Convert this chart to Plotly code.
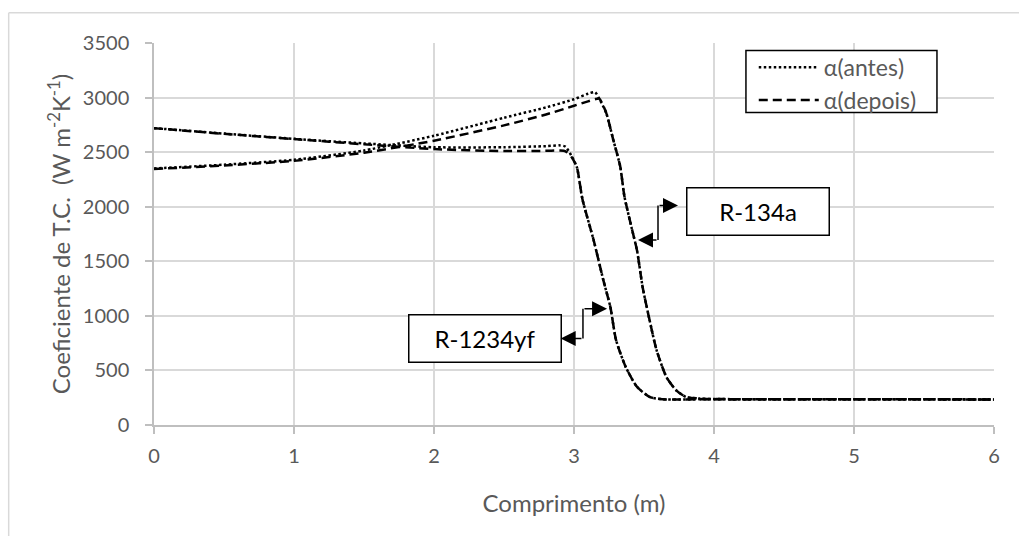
import plotly.graph_objects as go

# Comprimento (m) e coeficiente de transferência de calor (W m-2 K-1)
x_r134a = [0.0, 0.5, 1.0, 1.5, 2.0, 2.5, 2.8, 3.0, 3.1, 3.15, 3.18, 3.23, 3.28, 3.33,
           3.36, 3.41, 3.45, 3.49, 3.54, 3.59, 3.66, 3.73, 3.80, 3.90, 4.0, 4.5, 5.0, 5.5, 6.0]
r134a_antes = [2350, 2385, 2430, 2515, 2650, 2815, 2910, 2985, 3035, 3050, 2990, 2860, 2615,
               2370, 2095, 1815, 1600, 1265, 960, 685, 440, 318, 257, 242, 238, 236, 235, 236, 234]
r134a_depois = [2345, 2378, 2420, 2495, 2605, 2745, 2845, 2925, 2965, 2985, 2990, 2860, 2615,
                2370, 2095, 1815, 1600, 1265, 960, 685, 440, 318, 257, 242, 238, 236, 235, 236, 234]

x_r1234yf = [0.0, 0.5, 1.0, 1.5, 2.0, 2.5, 2.8, 2.9, 2.94, 2.98, 3.02, 3.06, 3.14, 3.21,
             3.26, 3.30, 3.37, 3.45, 3.54, 3.63, 3.75, 4.0, 4.5, 5.0, 5.5, 6.0]
r1234yf_antes = [2720, 2670, 2622, 2580, 2545, 2545, 2555, 2562, 2550, 2470, 2365, 2070, 1695,
                 1325, 1080, 780, 530, 350, 257, 236, 234, 236, 235, 236, 235, 234]
r1234yf_depois = [2720, 2668, 2620, 2572, 2528, 2510, 2512, 2515, 2508, 2460, 2365, 2070, 1695,
                  1325, 1080, 780, 530, 350, 257, 236, 234, 236, 235, 236, 235, 234]

legend_names = ["α(antes)", "α(depois)"]

# Caixas de identificação dos fluidos: (texto, x, y, largura, altura)
labels = [("R-134a", 4.312, 1959, 144, 49), ("R-1234yf", 2.364, 796, 154, 49)]
# Conectores em cotovelo: (x vertical, y inferior, y superior, ponta inferior x, ponta superior x)
connectors = [(3.60, 1695, 2010, 3.457, 3.743), (3.064, 793, 1065, 2.905, 3.236)]

DOT = "2.5px,2.5px"
DASH = "9px,5px"
GRAY = "#595959"
FONT = "Lato, Carlito, Open Sans, sans-serif"

fig = go.Figure()
series = [
    (x_r134a, r134a_antes, DOT, legend_names[0], True),
    (x_r134a, r134a_depois, DASH, legend_names[1], True),
    (x_r1234yf, r1234yf_antes, DOT, legend_names[0], False),
    (x_r1234yf, r1234yf_depois, DASH, legend_names[1], False),
]
for xs, ys, dash, name, show in series:
    fig.add_trace(go.Scatter(
        x=xs, y=ys, mode="lines", name=name, showlegend=show,
        line=dict(color="black", width=2.5, dash=dash, shape="spline", smoothing=0.6),
    ))

annotations = []
for text, cx, cy, w, h in labels:
    annotations.append(dict(
        x=cx, y=cy, xref="x", yref="y", text=text, showarrow=False,
        font=dict(family=FONT, size=24, color="black"),
        bordercolor="black", borderwidth=1.5, borderpad=0, bgcolor="white",
        width=w - 3, height=h - 3,
    ))

shapes = []
for vx, y_lo, y_hi, tip_lo, tip_hi in connectors:
    shapes.append(dict(type="line", xref="x", yref="y", x0=vx, x1=vx, y0=y_lo, y1=y_hi,
                       line=dict(color="black", width=1.5)))
    for tip, yy in ((tip_lo, y_lo), (tip_hi, y_hi)):
        annotations.append(dict(
            x=tip, y=yy, ax=vx, ay=yy, xref="x", yref="y", axref="x", ayref="y",
            text="", showarrow=True, arrowhead=2, arrowsize=2, arrowwidth=1.5,
            arrowcolor="black",
        ))

# Moldura da legenda
shapes.append(dict(type="rect", xref="paper", yref="paper", x0=0.7047, x1=0.9321,
                   y0=0.8180, y1=0.9806, layer="above", fillcolor="white",
                   line=dict(color="black", width=1.5)))

# Moldura externa do gráfico (lados superior e esquerdo visíveis)
shapes.append(dict(type="line", xref="paper", yref="paper", x0=-0.173, x1=1.2,
                   y0=1.0794, y1=1.0794, line=dict(color="#d9d9d9", width=1.5)))
shapes.append(dict(type="line", xref="paper", yref="paper", x0=-0.173, x1=-0.173,
                   y0=-0.4, y1=1.0794, line=dict(color="#d9d9d9", width=1.5)))

fig.update_layout(
    width=1019, height=536,
    margin=dict(l=154, r=25, t=43, b=111),
    paper_bgcolor="white", plot_bgcolor="white",
    font=dict(family=FONT, size=20, color=GRAY),
    showlegend=True,
    legend=dict(
        x=0.7140, y=0.9929, xanchor="left", yanchor="top",
        borderwidth=0, bgcolor="rgba(0,0,0,0)",
        font=dict(family=FONT, size=23, color=GRAY),
        itemwidth=60, tracegroupgap=0,
    ),
    annotations=annotations,
    shapes=shapes,
)
fig.update_xaxes(
    range=[0, 6], dtick=1, showgrid=True, gridcolor="#d9d9d9", gridwidth=1.5,
    showline=True, linecolor="#bfbfbf", linewidth=1.5, zeroline=False,
    ticks="outside", ticklen=7, tickcolor="#bfbfbf", tickwidth=1.5,
    ticklabelstandoff=5,
    tickfont=dict(family=FONT, size=20, color=GRAY),
    title=dict(text="Comprimento (m)", font=dict(family=FONT, size=24, color=GRAY), standoff=29),
)
fig.update_yaxes(
    range=[0, 3500], dtick=500, showgrid=True, gridcolor="#d9d9d9", gridwidth=1.5,
    showline=True, linecolor="#bfbfbf", linewidth=1.5, zeroline=False,
    ticks="outside", ticklen=7, tickcolor="#bfbfbf", tickwidth=1.5,
    ticklabelstandoff=12,
    tickfont=dict(family=FONT, size=20, color=GRAY),
    title=dict(text="Coeficiente de T.C.  (W m<sup>-2</sup>K<sup>-1</sup>)",
               font=dict(family=FONT, size=24, color=GRAY), standoff=5),
)

fig.write_html("out.html")
